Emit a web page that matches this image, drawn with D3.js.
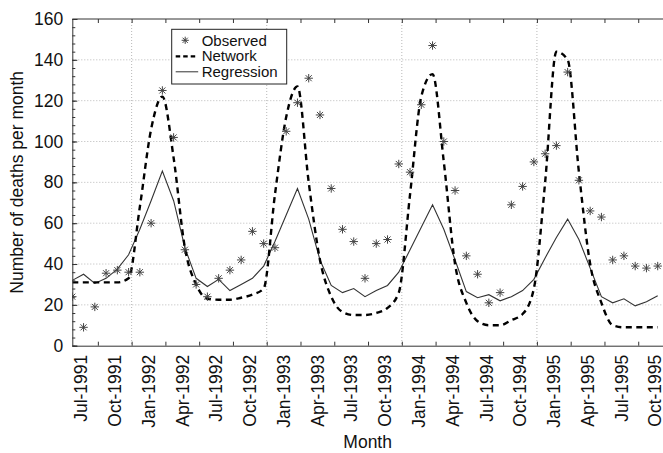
<!DOCTYPE html>
<html>
<head>
<script src="https://d3js.org/d3.v7.min.js"></script>
<style>
body{margin:0;background:#fff;}
svg text{font-family:"Liberation Sans",Arial,Helvetica,sans-serif;fill:#111;}
.grid line{stroke:#b8b8b8;stroke-dasharray:1,2;}
.axis path,.axis line{stroke:#333;}
</style>
</head>
<body>
<div id="chart"></div>
<script>
// quarter labels along the month axis
var tickLabels = ["Jul-1991","Oct-1991","Jan-1992","Apr-1992","Jul-1992","Oct-1992",
  "Jan-1993","Apr-1993","Jul-1993","Oct-1993","Jan-1994","Apr-1994",
  "Jul-1994","Oct-1994","Jan-1995","Apr-1995","Jul-1995","Oct-1995"];
var yTicks = [0,20,40,60,80,100,120,140,160];

// monthly values
var observed = [24,9,19,35.5,37,36,36,60,125,102,47,30,24,33,37,42,56,50,48,
  105,119,131,113,77,57,51,33,50,52,89,85,118,147,100,76,44,35,21,26,69,78,
  90,94,98,134,81,66,63,42,44,39,38,39];
var network = [31,31,31,31,31,33,68,106,122,92,48,30,23,22.5,22.5,23.5,25,28,74,
  112,127,80,42,24,16.5,15,15,16,18.5,26,74,122,133,90,40,21,12,10,10,12.5,15.5,
  28,80,144,140,85,40,21,10,9,9,9,9];
var regression = [32,35,30.5,33,37.5,44.5,57,71,85.5,71,48,33,29,32.5,27,30,33,39,51,
  64,77,62,42,29.5,26,28,24,27,29.5,36,47,58,69,57,42,26.5,23.5,25,22,24,27,
  32.5,43,53,62,52,38,24,21,23,19.5,21.5,24.5];

var width = 663, height = 453;
var pLeft = 72.3, pTop = 19, pBottom = 345.7, pRight = 663;

var svg = d3.select("#chart").append("svg")
  .attr("width", width)
  .attr("height", height);

var x = d3.scaleLinear().domain([0, 52.47]).range([pLeft, pRight]);
var y = d3.scaleLinear().domain([0, 160]).range([pBottom, pTop]);

// quarter tick marks sit between the labels
var quarterTicks = d3.range(17).map(function(k){ return 2.27 + 3*k; });
var labelPos = d3.range(tickLabels.length).map(function(k){ return 0.72 + 3*k; });
var yearLines = [5.27, 17.27, 29.27, 41.27];

svg.append("clipPath").attr("id","plotclip")
  .append("rect")
  .attr("x", pLeft).attr("y", pTop)
  .attr("width", pRight-pLeft).attr("height", pBottom-pTop);

// dotted grid
var grid = svg.append("g").attr("class","grid");
grid.selectAll("line.h").data(yTicks.slice(1,-1)).enter().append("line")
  .attr("class","h")
  .attr("x1", pLeft).attr("x2", pRight)
  .attr("y1", function(d){ return y(d); })
  .attr("y2", function(d){ return y(d); });
grid.selectAll("line.v").data(yearLines).enter().append("line")
  .attr("class","v")
  .attr("y1", pTop).attr("y2", pBottom)
  .attr("x1", function(d){ return x(d); })
  .attr("x2", function(d){ return x(d); });

var plot = svg.append("g").attr("clip-path","url(#plotclip)");

var regLine = d3.line()
  .x(function(d,i){ return x(i); })
  .y(function(d){ return y(d); });
var netLine = d3.line()
  .x(function(d,i){ return x(i); })
  .y(function(d){ return y(d); })
  .curve(d3.curveMonotoneX);

plot.append("path").datum(regression)
  .attr("d", regLine)
  .attr("fill","none")
  .attr("stroke","#333")
  .attr("stroke-width",1.1);

plot.append("path").datum(network)
  .attr("d", netLine)
  .attr("fill","none")
  .attr("stroke","#000")
  .attr("stroke-width",2.4)
  .attr("stroke-dasharray","6,4.5");

function starPath(r){
  var s = r*0.72;
  return "M"+(-r)+",0H"+r+"M0,"+(-r)+"V"+r+
    "M"+(-s)+","+(-s)+"L"+s+","+s+"M"+(-s)+","+s+"L"+s+","+(-s);
}

plot.selectAll("path.star").data(observed).enter().append("path")
  .attr("class","star")
  .attr("d", starPath(4.2))
  .attr("transform", function(d,i){ return "translate("+x(i)+","+y(d)+")"; })
  .attr("fill","none")
  .attr("stroke","#444")
  .attr("stroke-width",1);

// axes
svg.append("line")
  .attr("x1", pLeft).attr("x2", pRight)
  .attr("y1", pTop).attr("y2", pTop)
  .attr("stroke","#333");

var yAxis = svg.append("g").attr("class","axis")
  .attr("transform","translate("+pLeft+",0)")
  .call(d3.axisLeft(y).tickValues(yTicks).tickSize(-5).tickPadding(9));
yAxis.selectAll("text").style("font-size","17.5px");
svg.append("g").attr("class","axis")
  .attr("transform","translate("+pLeft+",0)")
  .call(d3.axisLeft(y).tickValues(d3.range(0,161,4)).tickSize(-3).tickFormat(""))
  .select(".domain").remove();

svg.append("g").attr("class","axis")
  .attr("transform","translate(0,"+pBottom+")")
  .call(d3.axisBottom(x).tickValues(quarterTicks).tickSize(-4).tickFormat("").tickSizeOuter(0));
svg.append("g").attr("class","axis")
  .attr("transform","translate(0,"+pTop+")")
  .call(d3.axisTop(x).tickValues(quarterTicks).tickSize(-4).tickFormat("").tickSizeOuter(0))
  .select(".domain").remove();

var xLab = svg.append("g").attr("class","axis")
  .attr("transform","translate(0,"+pBottom+")")
  .call(d3.axisBottom(x).tickValues(labelPos).tickSize(0)
    .tickFormat(function(d,k){ return tickLabels[k]; }));
xLab.select(".domain").remove();
xLab.selectAll("text")
  .style("font-size","17.5px")
  .attr("text-anchor","end")
  .attr("transform","rotate(-90)")
  .attr("x",-9)
  .attr("y",0)
  .attr("dy","0.36em");

svg.append("text")
  .attr("x", (pLeft+pRight)/2)
  .attr("y", 448)
  .attr("text-anchor","middle")
  .style("font-size","17.5px")
  .text("Month");

svg.append("text")
  .attr("transform","translate(23,"+((pTop+pBottom)/2)+") rotate(-90)")
  .attr("text-anchor","middle")
  .style("font-size","17.5px")
  .text("Number of deaths per month");

// legend
var lg = svg.append("g").attr("transform","translate(171.7,29.3)");
lg.append("rect")
  .attr("width",115).attr("height",54.7)
  .attr("fill","#fff").attr("stroke","#222");
lg.append("path").attr("d", starPath(3.6))
  .attr("transform","translate(13.5,11)")
  .attr("fill","none").attr("stroke","#444");
lg.append("line").attr("x1",4).attr("x2",26.5).attr("y1",27).attr("y2",27)
  .attr("stroke","#000").attr("stroke-width",2.2).attr("stroke-dasharray","4.5,3");
lg.append("line").attr("x1",4).attr("x2",26.5).attr("y1",42.5).attr("y2",42.5)
  .attr("stroke","#333").attr("stroke-width",1);
lg.selectAll("text.lab").data(["Observed","Network","Regression"]).enter().append("text")
  .attr("class","lab")
  .attr("x",30)
  .attr("y",function(d,i){ return 11 + i*15.7; })
  .attr("dy","0.36em")
  .style("font-size","15px")
  .text(function(d){ return d; });
</script>
</body>
</html>
